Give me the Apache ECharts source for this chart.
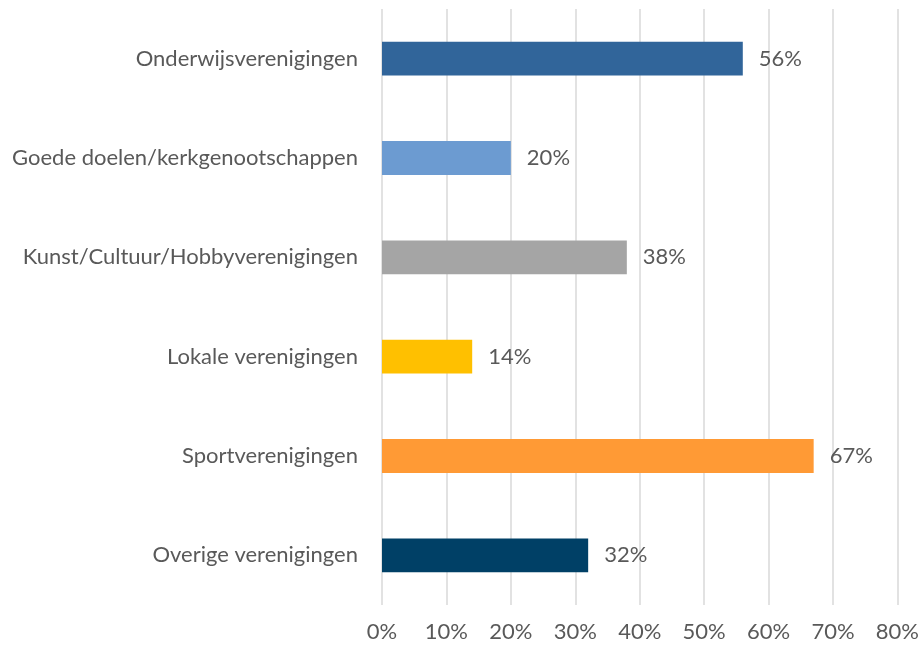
<!DOCTYPE html>
<html>
<head>
<meta charset="utf-8">
<script src="https://cdn.jsdelivr.net/npm/echarts@6/dist/echarts.min.js"></script>
<style>
  html, body { margin: 0; padding: 0; background: #fff; }
  #chart { width: 922px; height: 648px; }
</style>
</head>
<body>
<div id="chart"></div>
<script>
// Share of organisations per type (percent)
const categories = [
  'Onderwijsverenigingen',
  'Goede doelen/kerkgenootschappen',
  'Kunst/Cultuur/Hobbyverenigingen',
  'Lokale verenigingen',
  'Sportverenigingen',
  'Overige verenigingen'
];
const values = [56, 20, 38, 14, 67, 32];
const barColors = ['#31659A', '#6C9BD1', '#A5A5A5', '#FFC000', '#FF9A35', '#004066'];
const xTicks = [0, 10, 20, 30, 40, 50, 60, 70, 80];

const fontFamily = 'Lato, "Open Sans", sans-serif';
const textColor = '#595959';

const chart = echarts.init(document.getElementById('chart'), null, { renderer: 'canvas' });
chart.setOption({
  animation: false,
  grid: { left: 382, right: 22, top: 9, bottom: 43, containLabel: false },
  xAxis: {
    type: 'value',
    min: xTicks[0],
    max: xTicks[xTicks.length - 1],
    interval: 10,
    axisLine: { show: false },
    axisTick: { show: false },
    splitLine: { show: true, lineStyle: { color: '#D9D9D9', width: 1.5 } },
    axisLabel: {
      color: textColor, fontFamily, fontSize: 22, margin: 16,
      formatter: v => v + '%'
    }
  },
  yAxis: {
    type: 'category',
    inverse: true,
    data: categories,
    axisLine: { show: false },
    axisTick: { show: false },
    axisLabel: { color: textColor, fontFamily, fontSize: 22, margin: 24 }
  },
  series: [{
    type: 'bar',
    barWidth: '34%',
    data: values.map((v, i) => ({ value: v, itemStyle: { color: barColors[i] } })),
    label: {
      show: true,
      position: 'right',
      distance: 16,
      color: textColor,
      fontFamily,
      fontSize: 22,
      formatter: p => p.value + '%'
    }
  }]
});
</script>
</body>
</html>
